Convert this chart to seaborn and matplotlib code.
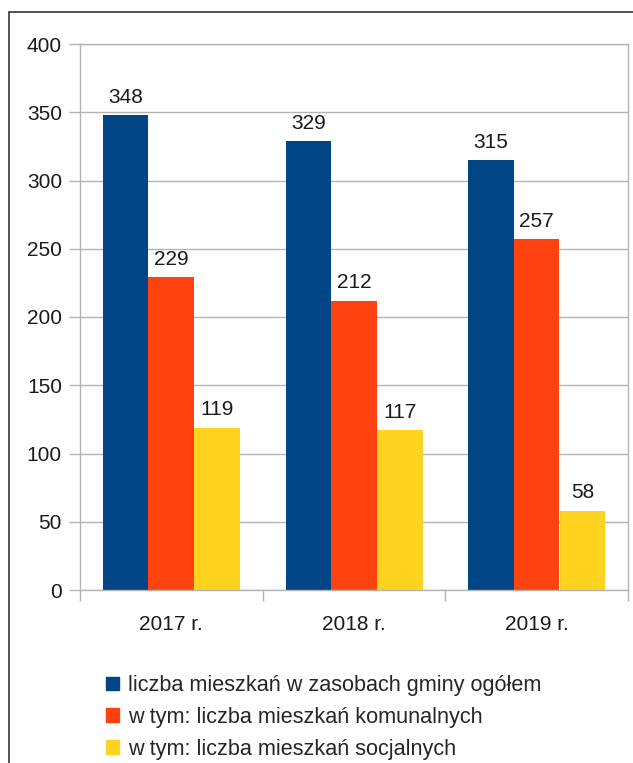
import pandas as pd
import matplotlib.pyplot as plt
import matplotlib.patches as mpatches
import seaborn as sns

# Chart data
years = ["2017 r.", "2018 r.", "2019 r."]
series = [
    "liczba mieszkań w zasobach gminy ogółem",
    "w tym: liczba mieszkań komunalnych",
    "w tym: liczba mieszkań socjalnych",
]
total = [348, 329, 315]
komunalne = [229, 212, 257]
socjalne = [119, 117, 58]
colors = ["#004586", "#ff420e", "#ffd320"]

df = pd.DataFrame({
    "rok": years * 3,
    "seria": [series[0]] * 3 + [series[1]] * 3 + [series[2]] * 3,
    "wartosc": total + komunalne + socjalne,
})

sns.set_style("white")
plt.rcParams["font.family"] = ["Liberation Sans", "DejaVu Sans"]

fig = plt.figure(figsize=(6.33, 7.63), dpi=100)
ax = fig.add_axes([80 / 633, 1 - 590 / 763, 548 / 633, 546 / 763])

sns.barplot(data=df, x="rok", y="wartosc", hue="seria", palette=colors,
            width=0.75, saturation=1, ax=ax, legend=False, errorbar=None,
            linewidth=0)

for cont in ax.containers:
    ax.bar_label(cont, padding=6, fontsize=15, color="#1a1a1a")

grid_c = "#b3b3b3"
ax.set_ylim(0, 400)
ax.set_xlim(-0.5, 2.5)
ax.set_yticks(range(0, 401, 50))
ax.yaxis.grid(True, color=grid_c, linewidth=1)
ax.set_axisbelow(True)
for s in ax.spines.values():
    s.set_color(grid_c)
    s.set_linewidth(1)
ax.set_xlabel("")
ax.set_ylabel("")
ax.tick_params(axis="y", length=8, width=1, color=grid_c, labelsize=15, pad=5,
               left=True, labelcolor="#1a1a1a")
ax.tick_params(axis="x", which="major", length=0, labelsize=15, pad=18,
               labelcolor="#1a1a1a")
ax.set_xticks([-0.5, 0.5, 1.5, 2.5], minor=True)
ax.tick_params(axis="x", which="minor", length=8, width=1, color=grid_c, bottom=True)

# legend
handles = [mpatches.Patch(color=c, label=l) for c, l in zip(colors, series)]
fig.legend(handles=handles, loc="upper left", bbox_to_anchor=(106 / 633, 1 - 675 / 763),
           frameon=False, fontsize=15.6, handlelength=0.58, handleheight=0.58,
           handletextpad=0.42, labelspacing=0.5, borderaxespad=0, borderpad=0)

# outer frame (left and top edges visible)
fig.patches.append(mpatches.Rectangle((9 / 633, -0.1), 1.2, 1 - 12 / 763 + 0.1,
                                      transform=fig.transFigure, fill=False,
                                      edgecolor="#333333", linewidth=1.2))

fig.savefig("out.png", dpi=100)
